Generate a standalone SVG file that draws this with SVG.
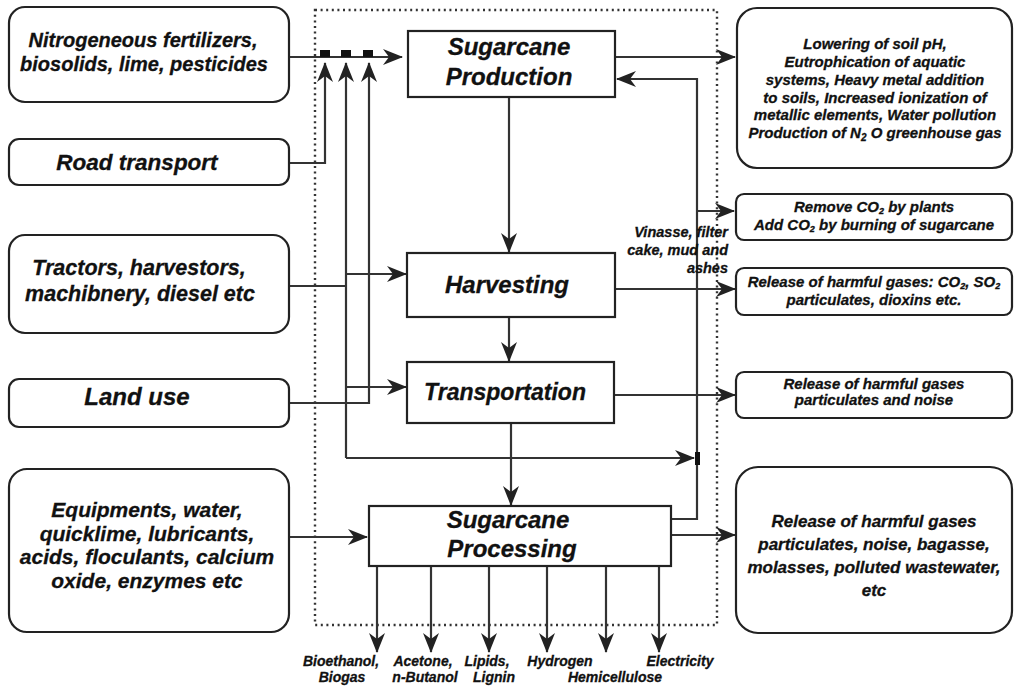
<svg xmlns="http://www.w3.org/2000/svg" width="1014" height="689" viewBox="0 0 1014 689">
<style>
.box{fill:#fff;stroke:#222;stroke-width:2.2}
.t{font-family:"Liberation Sans",Arial,sans-serif;font-weight:bold;font-style:italic;fill:#111;stroke:#111;stroke-width:0.3;text-anchor:middle}
.ln{fill:none;stroke:#333;stroke-width:2.2}
.ar{marker-end:url(#ah)}
</style>
<defs>
<marker id="ah" markerUnits="userSpaceOnUse" markerWidth="20" markerHeight="16" refX="19" refY="8" orient="auto">
<path d="M0,0 L20,8 L0,16 L6,8 Z" fill="#222"/>
</marker>
</defs>
<rect x="315" y="10" width="402" height="615" fill="none" stroke="#333" stroke-width="2.4" stroke-dasharray="2 3.6"/>

<g id="connectors">
<path class="ln ar" d="M289,57 H402"/>
<path class="ln ar" d="M289,163 H325 V63"/>
<path class="ln" d="M289,286 H346"/>
<path class="ln ar" d="M346,458 V63"/>
<path class="ln ar" d="M346,458 H694"/>
<path class="ln ar" d="M289,403 H369 V63"/>
<path class="ln ar" d="M346,274 H406"/>
<path class="ln ar" d="M346,387 H406"/>
<path class="ln ar" d="M289,537 H367"/>
<path class="ln ar" d="M509,97 V252"/>
<path class="ln ar" d="M509,317 V361"/>
<path class="ln ar" d="M511,423 V505"/>
<path class="ln ar" d="M671,519 H697 V79 H617"/>
<path class="ln ar" d="M697,211 H734"/>
<path class="ln ar" d="M615,57 H735"/>
<path class="ln ar" d="M615,289 H735"/>
<path class="ln ar" d="M615,395 H735"/>
<path class="ln ar" d="M671,535 H735"/>
<path class="ln ar" d="M377,566 V652"/>
<path class="ln ar" d="M431,566 V652"/>
<path class="ln ar" d="M489,566 V652"/>
<path class="ln ar" d="M547,566 V652"/>
<path class="ln ar" d="M606,566 V652"/>
<path class="ln ar" d="M659,566 V652"/>
<rect x="320" y="50" width="10" height="7" fill="#111"/>
<rect x="341" y="50" width="10" height="7" fill="#111"/>
<rect x="363" y="50" width="10" height="7" fill="#111"/>
<rect x="695" y="452" width="5" height="13" fill="#111"/>
</g>

<g id="n-fert">
<rect class="box" x="9" y="7" width="280" height="95" rx="16"/>
<text class="t" font-size="20" x="143" y="47">Nitrogeneous fertilizers,</text>
<text class="t" font-size="20" x="144" y="71">biosolids, lime, pesticides</text>
</g>
<g id="n-road">
<rect class="box" x="9" y="139" width="280" height="46" rx="10"/>
<text class="t" font-size="22.5" x="137" y="170">Road transport</text>
</g>
<g id="n-tractors">
<rect class="box" x="9" y="235" width="280" height="98" rx="16"/>
<text class="t" font-size="21.5" x="139" y="275">Tractors, harvestors,</text>
<text class="t" font-size="21.5" x="140" y="301">machibnery, diesel etc</text>
</g>
<g id="n-land">
<rect class="box" x="9" y="379" width="280" height="48" rx="10"/>
<text class="t" font-size="24" x="137" y="405">Land use</text>
</g>
<g id="n-equip">
<rect class="box" x="9" y="469" width="280" height="163" rx="18"/>
<text class="t" font-size="21" x="147" y="517">Equipments, water,</text>
<text class="t" font-size="21" x="147" y="541">quicklime, lubricants,</text>
<text class="t" font-size="21" x="147" y="564">acids, floculants, calcium</text>
<text class="t" font-size="21" x="147" y="588">oxide, enzymes etc</text>
</g>

<g id="n-production">
<rect class="box" x="408" y="31" width="207" height="66"/>
<text class="t" font-size="24" x="509" y="55">Sugarcane</text>
<text class="t" font-size="24" x="509" y="85">Production</text>
</g>
<g id="n-harvesting">
<rect class="box" x="407" y="253" width="208" height="64"/>
<text class="t" font-size="24" x="507" y="293">Harvesting</text>
</g>
<g id="n-transport">
<rect class="box" x="407" y="362" width="207" height="61"/>
<text class="t" font-size="23" x="505" y="400">Transportation</text>
</g>
<g id="n-processing">
<rect class="box" x="369" y="506" width="302" height="60"/>
<text class="t" font-size="24" x="508" y="528">Sugarcane</text>
<text class="t" font-size="24" x="512" y="557">Processing</text>
</g>

<g id="n-r1">
<rect class="box" x="737" y="8" width="275" height="160" rx="20"/>
<text class="t" font-size="15" x="875" y="49">Lowering of soil pH,</text>
<text class="t" font-size="15" x="875" y="67">Eutrophication of aquatic</text>
<text class="t" font-size="15" x="875" y="85">systems, Heavy metal addition</text>
<text class="t" font-size="15" x="875" y="103">to soils, Increased ionization of</text>
<text class="t" font-size="15" x="875" y="120">metallic elements, Water pollution</text>
<text class="t" font-size="15" x="875" y="138">Production of N<tspan font-size="10" dy="3">2</tspan><tspan dy="-3"> O greenhouse gas</tspan></text>
</g>
<g id="n-r2">
<rect class="box" x="736" y="194" width="276" height="46" rx="8"/>
<text class="t" font-size="15" x="874" y="212">Remove CO<tspan font-size="9" dy="2">2</tspan><tspan dy="-2"> by plants</tspan></text>
<text class="t" font-size="15" x="874" y="230">Add CO<tspan font-size="9" dy="2">2</tspan><tspan dy="-2"> by burning of sugarcane</tspan></text>
</g>
<g id="n-r3">
<rect class="box" x="736" y="268" width="276" height="47" rx="8"/>
<text class="t" font-size="15" x="874" y="287">Release of harmful gases: CO<tspan font-size="9" dy="2">2</tspan><tspan dy="-2">, SO</tspan><tspan font-size="9" dy="2">2</tspan></text>
<text class="t" font-size="15" x="874" y="305">particulates, dioxins etc.</text>
</g>
<g id="n-r4">
<rect class="box" x="736" y="372" width="276" height="46" rx="8"/>
<text class="t" font-size="15" x="874" y="389">Release of harmful gases</text>
<text class="t" font-size="15" x="874" y="405">particulates and noise</text>
</g>
<g id="n-r5">
<rect class="box" x="736" y="467" width="276" height="166" rx="22"/>
<text class="t" font-size="17" x="874" y="527">Release of harmful gases</text>
<text class="t" font-size="17" x="874" y="550">particulates, noise, bagasse,</text>
<text class="t" font-size="17" x="874" y="573">molasses, polluted wastewater,</text>
<text class="t" font-size="17" x="874" y="596">etc</text>
</g>

<g id="labels">
<text class="t" font-size="14.5" x="728" y="237" style="text-anchor:end">Vinasse, filter</text>
<text class="t" font-size="14.5" x="728" y="255" style="text-anchor:end">cake, mud and</text>
<text class="t" font-size="14.5" x="728" y="273" style="text-anchor:end">ashes</text>
<text class="t" font-size="14" x="341" y="666">Bioethanol,</text>
<text class="t" font-size="14" x="342" y="682">Biogas</text>
<text class="t" font-size="14" x="423" y="666">Acetone,</text>
<text class="t" font-size="14" x="425" y="682">n-Butanol</text>
<text class="t" font-size="14" x="487" y="666">Lipids,</text>
<text class="t" font-size="14" x="494" y="682">Lignin</text>
<text class="t" font-size="14" x="560" y="666">Hydrogen</text>
<text class="t" font-size="14" x="615" y="682">Hemicellulose</text>
<text class="t" font-size="14" x="680" y="666">Electricity</text>
</g>
</svg>
